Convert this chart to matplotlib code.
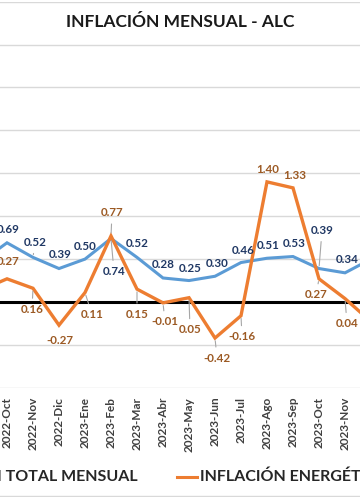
import matplotlib.pyplot as plt
from matplotlib.lines import Line2D

plt.rcParams['font.family'] = ['Lato', 'DejaVu Sans']

# months (first and last one lie outside the cropped view)
meses = ['2022-Sep', '2022-Oct', '2022-Nov', '2022-Dic', '2023-Ene', '2023-Feb',
         '2023-Mar', '2023-Abr', '2023-May', '2023-Jun', '2023-Jul', '2023-Ago',
         '2023-Sep', '2023-Oct', '2023-Nov', '2023-Dic']
inflacion_total = [0.47, 0.69, 0.52, 0.39, 0.50, 0.74, 0.52, 0.28, 0.25, 0.30,
                   0.46, 0.51, 0.53, 0.39, 0.34, 0.50]
inflacion_energia = [0.14, 0.27, 0.16, -0.27, 0.11, 0.77, 0.15, -0.01, 0.05, -0.42,
                     -0.16, 1.40, 1.33, 0.27, 0.04, -0.23]
visibles = range(1, 15)

# label offsets in pixels (dx, dy up), and whether a leader line is drawn
off_total = [(1, 13), (2, 15), (1, 14), (0, 13), (3, -33), (0, 14), (0, 13),
             (1, 12), (2, 13), (2, 12), (1, 13), (1, 13), (3, 38), (2, 13)]
lead_total = [False, True, False, False, True, False, False,
              False, False, False, False, False, True, False]
off_energia = [(1, 17), (-1, -21), (1, -15), (7, -22), (1, 23), (0, -25), (2, -19),
               (1, -32), (2, -20), (1, -21), (1, 12), (2, 12), (-3, -16), (2, -25)]
lead_energia = [False, True, False, True, True, True, True,
                True, True, True, False, False, True, True]

azul = '#5B9BD5'
naranja = '#ED7D31'
azul_txt = '#203864'
naranja_txt = '#9C5A24'
gris = '#A6A6A6'

fig = plt.figure(figsize=(3.6, 4.97), dpi=100)
ax = fig.add_axes([0, 0.2197, 1, 0.7769])

x = list(range(len(meses)))
ax.plot(x, inflacion_total, color=azul, lw=2.2, solid_joinstyle='miter', zorder=3)
ax.plot(x, inflacion_energia, color=naranja, lw=2.4, solid_joinstyle='miter', zorder=4)

ax.axhline(0, color='black', lw=2.2, zorder=2)

def etiquetas(serie, offs, leads, color):
    for k, i in enumerate(visibles):
        dx, dy = offs[k]
        arrow = None
        if leads[k]:
            arrow = dict(arrowstyle='-', color=gris, lw=0.8, shrinkA=2, shrinkB=2)
        ax.annotate(f'{serie[i]:.2f}', (i, serie[i]), xytext=(dx, dy),
                    textcoords='offset pixels', ha='center', va='center',
                    fontsize=8.4, fontweight='bold', color=color,
                    arrowprops=arrow, zorder=5)

etiquetas(inflacion_total, off_total, lead_total, azul_txt)
etiquetas(inflacion_energia, off_energia, lead_energia, naranja_txt)

step = 26.0
ax.set_xlim(1 - 7 / step, 1 + (360 - 7) / step)
ax.set_ylim(-1.0, 3.5)
ax.set_yticks([-1 + 0.5 * k for k in range(10)])
ax.yaxis.grid(True, color='#D9D9D9', lw=1.0)
ax.set_axisbelow(True)
ax.tick_params(axis='y', left=False, labelleft=False)
ax.set_xticks(list(visibles))
ax.set_xticklabels([meses[i] for i in visibles], rotation=90, fontsize=8.5,
                   fontweight='bold', color='#404040')
ax.tick_params(axis='x', length=0, pad=6.5)
for s in ax.spines.values():
    s.set_visible(False)

fig.text(0.5, 1 - 22 / 497, 'INFLACIÓN MENSUAL - ALC', ha='center', va='center',
         fontsize=12.5, fontweight='bold', color='#1A1A1A')

# legend (cropped on both sides like the reference)
ly = 1 - 477 / 497
fig.text(138 / 360, ly, 'INFLACIÓN TOTAL MENSUAL', ha='right', va='center',
         fontsize=11.5, fontweight='bold', color='#262626')
fig.add_artist(Line2D([-60 / 360, -40 / 360], [ly, ly], color=azul, lw=2.2))
fig.add_artist(Line2D([177 / 360, 197 / 360], [ly, ly], color=naranja, lw=2.2))
fig.text(200 / 360, ly, 'INFLACIÓN ENERGÉTICA MENSUAL', ha='left', va='center',
         fontsize=11.5, fontweight='bold', color='#262626')
fig.add_artist(Line2D([0, 1], [1 - 496 / 497] * 2, color='#D9D9D9', lw=1.0))

fig.savefig('out.png', dpi=100)
